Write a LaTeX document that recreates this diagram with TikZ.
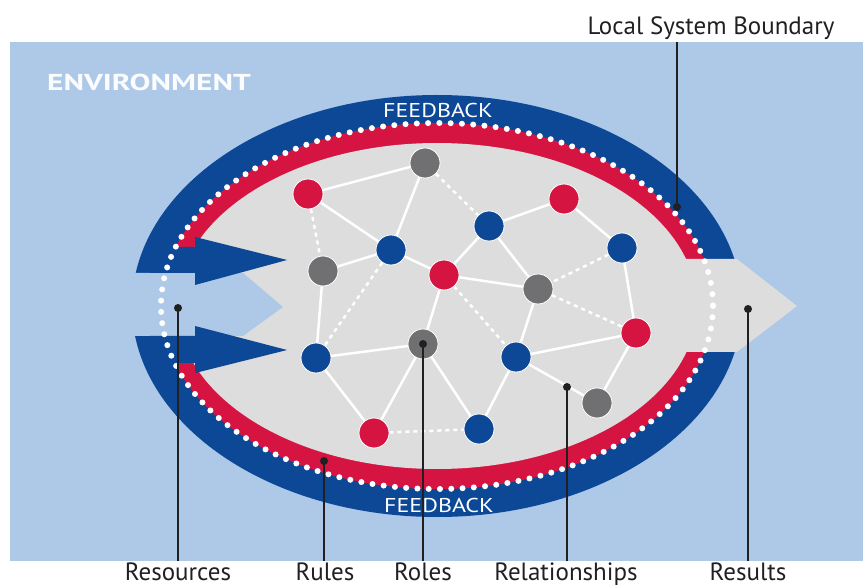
\documentclass[tikz,border=0pt]{standalone}
\usepackage{fontspec}
\setmainfont{PT Sans}
\definecolor{envblue}{RGB}{174,200,232}
\definecolor{fbblue}{RGB}{12,72,150}
\definecolor{rulered}{RGB}{214,20,66}
\definecolor{rolegray}{RGB}{112,112,114}
\definecolor{sysgray}{RGB}{221,221,221}
\definecolor{ink}{RGB}{32,32,32}

\begin{document}
\begin{tikzpicture}[x=1pt,y=-1pt]
        \tikzstyle{every node}+=[inner sep=0pt]
        \tikzstyle{agent}=[circle,minimum size=30pt,draw=white,line width=0.8pt]
        \tikzstyle{link}=[white,line width=2.5pt]
        \tikzstyle{weak}=[white,line width=2.5pt,dash pattern=on 4pt off 4pt]
        \tikzstyle{lead}=[ink,line width=2pt]
        \tikzstyle{leaddot}=[circle,fill=ink,minimum size=8pt]
        \tikzstyle{caption}=[ink,anchor=base,font=\fontsize{25}{28}\selectfont]
        \tikzstyle{fbtext}=[white,anchor=base,font=\fontsize{20}{24}\selectfont]
        \useasboundingbox (0,0) rectangle (863,588);
        \fill [envblue] (10,42) rectangle (863,561);
        \fill [fbblue] (437,306) ellipse [x radius=305, y radius=211];
        \fill [rulered] (437,306) ellipse [x radius=276, y radius=183];
        \fill [sysgray] (437,306) ellipse [x radius=260, y radius=163];
        \fill [envblue] (100,273) -- (243,273) -- (283,307) -- (243,336) -- (100,336) -- cycle;
        \fill [sysgray] (650,259) -- (737,259) -- (797,306) -- (737,352) -- (650,352) -- cycle;
        \fill [fbblue] (150,247) -- (195,247) -- (195,237) -- (287,260) -- (195,285) -- (195,273) -- (150,273) -- cycle;
        \fill [fbblue] (150,336) -- (195,336) -- (195,326) -- (287,350) -- (195,373) -- (195,363) -- (150,363) -- cycle;
        \draw [white,line width=6pt,line cap=round,dash pattern=on 0pt off 11.29pt] (437,306) ellipse [x radius=276, y radius=183];
        \node [fbtext] (fbtop) at (438,118) {\scalebox{1.2}[1]{FEEDBACK}};
        \node [fbtext] (fbbot) at (439,512) {\scalebox{1.2}[1]{FEEDBACK}};
        \node [white!94!envblue,anchor=base west,font=\bfseries\fontsize{23}{26}\selectfont] (env) at (47,91) {\scalebox{1.36}[1]{ENVIRONMENT}};
        \node [agent,fill=rulered] (r1) at (308,194) {};
        \node [agent,fill=rolegray] (g2) at (425,163) {};
        \node [agent,fill=fbblue] (b3) at (391,250) {};
        \node [agent,fill=rolegray] (g4) at (323,271) {};
        \node [agent,fill=rulered] (r5) at (444,275) {};
        \node [agent,fill=fbblue] (b6) at (489,226) {};
        \node [agent,fill=rulered] (r7) at (564,199) {};
        \node [agent,fill=fbblue] (b8) at (622,248) {};
        \node [agent,fill=rolegray] (g9) at (538,289) {};
        \node [agent,fill=rulered] (r10) at (636,333) {};
        \node [agent,fill=fbblue] (b11) at (516,357) {};
        \node [agent,fill=rolegray] (g12) at (597,403) {};
        \node [agent,fill=fbblue] (b13) at (316,358) {};
        \node [agent,fill=rolegray] (g14) at (423,344) {};
        \node [agent,fill=rulered] (r15) at (374,433) {};
        \node [agent,fill=fbblue] (b16) at (479,429) {};
        \draw [link] (r1) -- (g2);
        \draw [link] (r1) -- (b3);
        \draw [weak] (r1) -- (g4);
        \draw [link] (g2) -- (b3);
        \draw [weak] (g2) -- (b6);
        \draw [link] (b3) -- (g4);
        \draw [link] (b3) -- (r5);
        \draw [weak] (b3) -- (b13);
        \draw [link] (g4) -- (b13);
        \draw [link] (r5) -- (b6);
        \draw [link] (r5) -- (g9);
        \draw [link] (r5) -- (g14);
        \draw [weak] (r5) -- (b11);
        \draw [link] (b6) -- (r7);
        \draw [link] (b6) -- (g9);
        \draw [link] (r7) -- (b8);
        \draw [weak] (b8) -- (g9);
        \draw [link] (b8) -- (r10);
        \draw [weak] (g9) -- (r10);
        \draw [link] (g9) -- (b11);
        \draw [link] (b11) -- (r10);
        \draw [link] (b11) -- (g12);
        \draw [link] (r10) -- (g12);
        \draw [link] (b11) -- (b16);
        \draw [link] (b13) -- (g14);
        \draw [link] (b13) -- (r15);
        \draw [link] (g14) -- (r15);
        \draw [link] (g14) -- (b16);
        \draw [weak] (r15) -- (b16);
        \node [caption] (boundary) at (711,35) {Local System Boundary};
        \node [caption] (resources) at (178,580) {Resources};
        \node [caption] (rules) at (325,580) {Rules};
        \node [caption] (roles) at (423,580) {Roles};
        \node [caption] (relations) at (566,580) {Relationships};
        \node [caption] (results) at (748,580) {Results};
        \node [leaddot] (pbound) at (677,207) {};
        \node [leaddot] (pres) at (178,308) {};
        \node [leaddot] (prule) at (324,461) {};
        \node [leaddot] (prole) at (423,344) {};
        \node [leaddot] (prel) at (567,387) {};
        \node [leaddot] (pout) at (748,309) {};
        \draw [lead] (pbound.center) -- (677,42);
        \draw [lead] (pres.center) -- (178,561);
        \draw [lead] (prule.center) -- (324,561);
        \draw [lead] (prole.center) -- (423,561);
        \draw [lead] (prel.center) -- (567,561);
        \draw [lead] (pout.center) -- (748,561);
\end{tikzpicture}
\end{document}
